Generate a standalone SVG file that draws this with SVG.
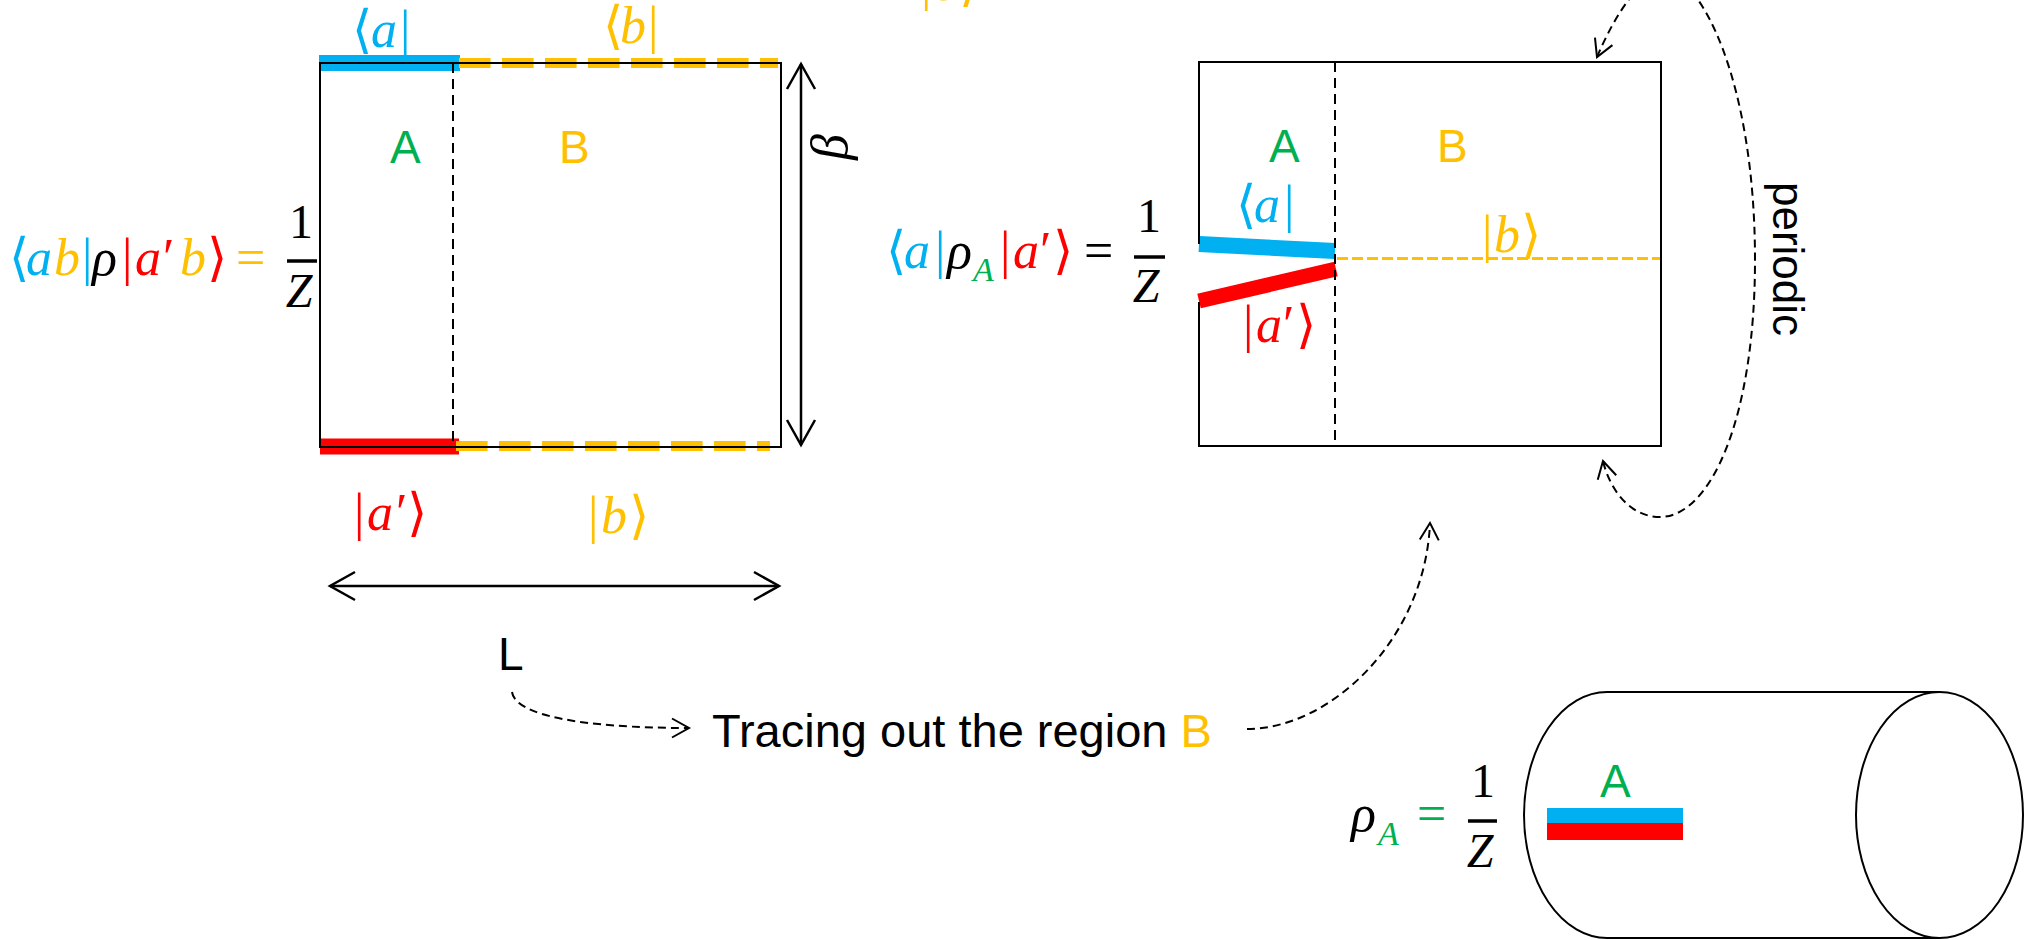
<svg xmlns="http://www.w3.org/2000/svg" width="2034" height="940" viewBox="0 0 2034 940">
<style>
.m{font-family:"Liberation Serif","DejaVu Serif","DejaVu Sans",serif;font-size:52px}
.f{font-size:48px}
.i{font-style:italic}
.s{font-family:"Liberation Sans",Arial,sans-serif;font-size:46px}
.bl{fill:#00B0F0}.ye{fill:#FFC000}.re{fill:#FF0000}.gr{fill:#00B050}.bk{fill:#000}
.frame{fill:none;stroke:#000;stroke-width:2}
.vdash{fill:none;stroke:#000;stroke-width:2;stroke-dasharray:10 6}
.conn{fill:none;stroke:#000;stroke-width:2;stroke-dasharray:8 5}
.dim{fill:none;stroke:#000;stroke-width:2.5}
.fbar{stroke:#000;stroke-width:3.5}
</style>
<defs>
<marker id="big" markerUnits="userSpaceOnUse" orient="auto-start-reverse" markerWidth="60" markerHeight="60" refX="0" refY="0" viewBox="-30 -30 60 60" overflow="visible">
<path d="M-25,-14 L0,0 L-25,14" fill="none" stroke="#000" stroke-width="2.5"/>
</marker>
<marker id="small" markerUnits="userSpaceOnUse" orient="auto-start-reverse" markerWidth="40" markerHeight="40" refX="0" refY="0" viewBox="-20 -20 40 40" overflow="visible">
<path d="M-17,-9.5 L0,0 L-17,9.5" fill="none" stroke="#000" stroke-width="2"/>
</marker>
</defs>
<rect width="2034" height="940" fill="#fff"/>

<g id="left-panel">
<line x1="319" y1="63" x2="460" y2="63" stroke="#00B0F0" stroke-width="16"/>
<line x1="459" y1="63" x2="778" y2="63" stroke="#FFC000" stroke-width="10" stroke-dasharray="31.6 11.4"/>
<line x1="320" y1="446.5" x2="459" y2="446.5" stroke="#FF0000" stroke-width="16"/>
<line x1="456" y1="446" x2="770" y2="446" stroke="#FFC000" stroke-width="10" stroke-dasharray="31.6 11.4"/>
<rect class="frame" x="320" y="63" width="461" height="384"/>
<line class="vdash" x1="453" y1="63" x2="453" y2="447"/>
<text class="s gr" x="390" y="163">A</text>
<text class="s ye" x="559" y="163">B</text>
<text class="m bl" y="47"><tspan x="352">⟨</tspan><tspan x="371" class="i">a</tspan><tspan x="400">|</tspan></text>
<text class="m ye" y="43"><tspan x="603">⟨</tspan><tspan x="620" class="i">b</tspan><tspan x="648">|</tspan></text>
<text class="m re" y="530"><tspan x="354">|</tspan><tspan x="367" class="i">a</tspan><tspan x="396">′</tspan><tspan x="407">⟩</tspan></text>
<text class="m ye" y="533"><tspan x="588">|</tspan><tspan x="601" class="i">b</tspan><tspan x="629">⟩</tspan></text>
</g>

<g id="left-formula">
<text class="m" y="275"><tspan x="9" class="bl">⟨</tspan><tspan x="26" class="bl i">a</tspan><tspan x="54" class="ye i">b</tspan><tspan x="82" class="bl">|</tspan><tspan x="92" class="bk i">ρ</tspan><tspan x="122" class="re">|</tspan><tspan x="135" class="re i">a</tspan><tspan x="163" class="re">′</tspan><tspan x="180" class="ye i">b</tspan><tspan x="207" class="re">⟩</tspan><tspan x="236" class="ye">=</tspan></text>
<text class="m f bk" x="301" y="238" text-anchor="middle">1</text>
<line class="fbar" x1="287" y1="261" x2="317" y2="261"/>
<text class="m f bk i" x="299" y="307" text-anchor="middle">Z</text>
</g>

<g id="dimensions">
<line class="dim" x1="801" y1="64" x2="801" y2="445" marker-start="url(#big)" marker-end="url(#big)"/>
<text class="m bk i" transform="translate(847,147) rotate(-90)" text-anchor="middle">β</text>
<line class="dim" x1="330" y1="586" x2="779" y2="586" marker-start="url(#big)" marker-end="url(#big)"/>
</g>

<g id="label-L">
<text class="s bk" x="498" y="670">L</text>
</g>

<g id="label-tracing">
<text class="s bk" x="712" y="747" style="font-size:47px">Tracing out the region <tspan class="ye">B</tspan></text>
</g>

<g id="top-ket">
<text class="m ye" y="0"><tspan x="921">|</tspan><tspan x="934" class="i">b</tspan><tspan x="959">⟩</tspan></text>
</g>

<g id="middle-panel">
<line x1="1199" y1="244" x2="1335" y2="251" stroke="#00B0F0" stroke-width="16"/>
<line x1="1199" y1="301" x2="1336" y2="269" stroke="#FF0000" stroke-width="15"/>
<line x1="1337" y1="258.5" x2="1661" y2="258.5" stroke="#FFC000" stroke-width="3" stroke-dasharray="11 4"/>
<path class="frame" d="M1199,244 L1199,62 L1661,62 L1661,446 L1199,446 L1199,302"/>
<line class="vdash" x1="1335" y1="62" x2="1335" y2="446"/>
<text class="s gr" x="1269" y="162">A</text>
<text class="s ye" x="1437" y="162">B</text>
<text class="m bl" y="222"><tspan x="1236">⟨</tspan><tspan x="1254" class="i">a</tspan><tspan x="1284">|</tspan></text>
<text class="m re" y="342"><tspan x="1243">|</tspan><tspan x="1256" class="i">a</tspan><tspan x="1283">′</tspan><tspan x="1296">⟩</tspan></text>
<text class="m ye" y="252"><tspan x="1482">|</tspan><tspan x="1494" class="i">b</tspan><tspan x="1521">⟩</tspan></text>
</g>

<g id="middle-formula">
<text class="m" y="268"><tspan x="886" class="bl">⟨</tspan><tspan x="904" class="bl i">a</tspan><tspan x="935" class="bl">|</tspan><tspan x="947" class="bk i">ρ</tspan><tspan x="973" y="281" class="gr i" style="font-size:34px">A</tspan><tspan x="1000" y="268" class="re">|</tspan><tspan x="1013" class="re i">a</tspan><tspan x="1040" class="re">′</tspan><tspan x="1053" class="re">⟩</tspan><tspan x="1084" class="bk">=</tspan></text>
<text class="m f bk" x="1149" y="232" text-anchor="middle">1</text>
<line class="fbar" x1="1134" y1="257" x2="1165" y2="257"/>
<text class="m f bk i" x="1146" y="302" text-anchor="middle">Z</text>
</g>

<g id="periodic-label">
<text class="s bk" transform="translate(1773,259) rotate(90)" text-anchor="middle" style="font-size:44px">periodic</text>
</g>

<g id="cylinder">
<path class="frame" d="M1607,692 A83,123 0 0 0 1607,938 L1939,938 M1607,692 L1939,692"/>
<ellipse class="frame" cx="1939.5" cy="815" rx="83.5" ry="123"/>
<rect x="1547" y="808" width="136" height="15.5" fill="#00B0F0"/>
<rect x="1547" y="823" width="136" height="17" fill="#FF0000"/>
<text class="s gr" x="1600" y="797">A</text>
</g>

<g id="right-formula">
<text class="m" y="831"><tspan x="1351" class="bk i">ρ</tspan><tspan x="1378" y="845" class="gr i" style="font-size:34px">A</tspan><tspan x="1417" y="831" class="gr">=</tspan></text>
<text class="m f bk" x="1483" y="797" text-anchor="middle">1</text>
<line class="fbar" x1="1468" y1="821" x2="1497" y2="821"/>
<text class="m f bk i" x="1480" y="867" text-anchor="middle">Z</text>
</g>

<g id="connectors">
<path class="conn" d="M512,692 C515,715 580,728 689,728" marker-end="url(#small)"/>
<path class="conn" d="M1247,729 C1330,729 1425,640 1430,523" marker-end="url(#small)"/>
<path class="conn" d="M1597,57 C1615,15 1640,-25 1665,-25 C1700,-25 1755,80 1755,260 C1755,420 1710,517 1660,517 C1630,517 1610,490 1603,461" marker-start="url(#small)" marker-end="url(#small)"/>
</g>
</svg>
